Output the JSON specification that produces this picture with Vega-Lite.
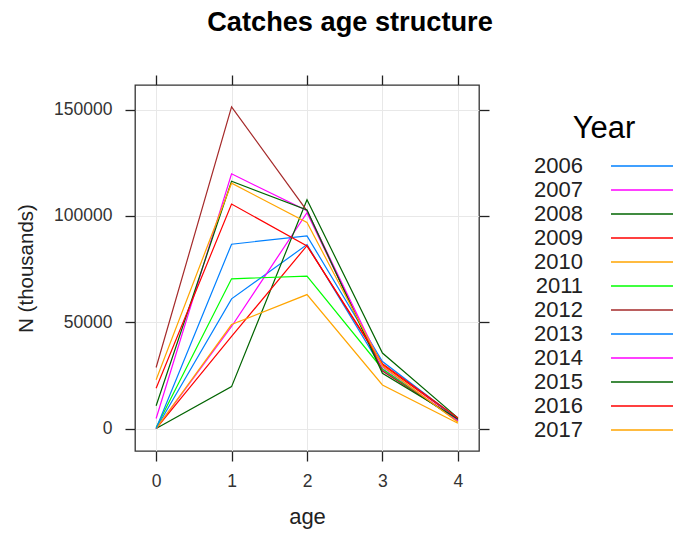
{
  "$schema": "https://vega.github.io/schema/vega-lite/v6.json",
  "width": 344,
  "height": 366,
  "autosize": {"type": "none"},
  "padding": {"left": 135, "top": 85, "right": 194, "bottom": 82},
  "background": "white",
  "title": {
    "text": "Catches age structure",
    "fontSize": 27.2,
    "fontWeight": "bold",
    "font": "Liberation Sans",
    "color": "black",
    "anchor": "middle",
    "dx": 43,
    "offset": 37
  },
  "config": {
    "view": {"stroke": "#333333", "strokeWidth": 1.3},
    "font": "Liberation Sans"
  },
  "data": {
    "values": [
      {"Year": "2006", "age": 0, "N": 0},
      {"Year": "2006", "age": 1, "N": 61000},
      {"Year": "2006", "age": 2, "N": 86500},
      {"Year": "2006", "age": 3, "N": 28000},
      {"Year": "2006", "age": 4, "N": 3500},
      {"Year": "2007", "age": 0, "N": 0},
      {"Year": "2007", "age": 1, "N": 48000},
      {"Year": "2007", "age": 2, "N": 101500},
      {"Year": "2007", "age": 3, "N": 27500},
      {"Year": "2007", "age": 4, "N": 4000},
      {"Year": "2008", "age": 0, "N": 0},
      {"Year": "2008", "age": 1, "N": 19700},
      {"Year": "2008", "age": 2, "N": 107600},
      {"Year": "2008", "age": 3, "N": 35500},
      {"Year": "2008", "age": 4, "N": 5000},
      {"Year": "2009", "age": 0, "N": 0},
      {"Year": "2009", "age": 1, "N": 43300},
      {"Year": "2009", "age": 2, "N": 86000},
      {"Year": "2009", "age": 3, "N": 30000},
      {"Year": "2009", "age": 4, "N": 4500},
      {"Year": "2010", "age": 0, "N": 0},
      {"Year": "2010", "age": 1, "N": 48900},
      {"Year": "2010", "age": 2, "N": 63000},
      {"Year": "2010", "age": 3, "N": 20500},
      {"Year": "2010", "age": 4, "N": 2500},
      {"Year": "2011", "age": 0, "N": 500},
      {"Year": "2011", "age": 1, "N": 70400},
      {"Year": "2011", "age": 2, "N": 71700},
      {"Year": "2011", "age": 3, "N": 28000},
      {"Year": "2011", "age": 4, "N": 3500},
      {"Year": "2012", "age": 0, "N": 28700},
      {"Year": "2012", "age": 1, "N": 151300},
      {"Year": "2012", "age": 2, "N": 102400},
      {"Year": "2012", "age": 3, "N": 27000},
      {"Year": "2012", "age": 4, "N": 4000},
      {"Year": "2013", "age": 0, "N": 0},
      {"Year": "2013", "age": 1, "N": 86700},
      {"Year": "2013", "age": 2, "N": 90600},
      {"Year": "2013", "age": 3, "N": 31500},
      {"Year": "2013", "age": 4, "N": 4500},
      {"Year": "2014", "age": 0, "N": 4700},
      {"Year": "2014", "age": 1, "N": 119800},
      {"Year": "2014", "age": 2, "N": 102400},
      {"Year": "2014", "age": 3, "N": 29000},
      {"Year": "2014", "age": 4, "N": 3500},
      {"Year": "2015", "age": 0, "N": 10700},
      {"Year": "2015", "age": 1, "N": 116300},
      {"Year": "2015", "age": 2, "N": 102800},
      {"Year": "2015", "age": 3, "N": 26000},
      {"Year": "2015", "age": 4, "N": 4500},
      {"Year": "2016", "age": 0, "N": 18900},
      {"Year": "2016", "age": 1, "N": 105600},
      {"Year": "2016", "age": 2, "N": 85900},
      {"Year": "2016", "age": 3, "N": 30500},
      {"Year": "2016", "age": 4, "N": 5000},
      {"Year": "2017", "age": 0, "N": 22900},
      {"Year": "2017", "age": 1, "N": 115400},
      {"Year": "2017", "age": 2, "N": 96900},
      {"Year": "2017", "age": 3, "N": 29500},
      {"Year": "2017", "age": 4, "N": 3000}
    ]
  },
  "layer": [
    {
      "mark": {"type": "line", "strokeWidth": 1.2},
      "encoding": {
        "x": {
          "field": "age", "type": "quantitative",
          "scale": {"domain": [-0.28, 4.28], "nice": false, "zero": false},
          "axis": {
            "values": [0, 1, 2, 3, 4], "grid": true, "gridColor": "#e8e8e8",
            "domain": false, "tickSize": 10, "tickColor": "#222", "tickWidth": 1.3,
            "labelFontSize": 17.5, "labelColor": "#333", "labelPadding": 11,
            "title": "age", "titleFontSize": 22, "titleFontWeight": "normal",
            "titleColor": "#222", "titlePadding": 17
          }
        },
        "y": {
          "field": "N", "type": "quantitative",
          "scale": {"domain": [-10570, 161570], "nice": false, "zero": false},
          "axis": {
            "values": [0, 50000, 100000, 150000], "format": "d", "grid": true,
            "gridColor": "#e8e8e8", "domain": false, "tickSize": 10,
            "tickColor": "#222", "tickWidth": 1.3, "labelFontSize": 17.5,
            "labelColor": "#333", "labelPadding": 13,
            "title": "N (thousands)", "titleFontSize": 20.5,
            "titleFontWeight": "normal", "titleColor": "#222", "titlePadding": 17
          }
        },
        "color": {
          "field": "Year", "type": "nominal",
          "scale": {
            "domain": ["2006","2007","2008","2009","2010","2011","2012","2013","2014","2015","2016","2017"],
            "range": ["#0080ff","#ff00ff","#006400","#ff0000","#ffa500","#00ff00","#a52a2a","#0080ff","#ff00ff","#006400","#ff0000","#ffa500"]
          },
          "legend": {
            "orient": "none", "legendX": 388, "legendY": 29,
            "title": "Year", "titleFontSize": 31, "titleFontWeight": "normal",
            "titleColor": "black", "titleAnchor": "middle", "titlePadding": 8,
            "labelFontSize": 22, "labelColor": "#222", "labelAlign": "right",
            "labelOffset": -77, "symbolType": "M-3,0L3,0", "symbolSize": 576,
            "symbolOffset": 111,
            "symbolStrokeWidth": 1.3, "rowPadding": 0, "padding": 0
          }
        }
      }
    },
    {
      "mark": {"type": "line", "opacity": 0},
      "encoding": {
        "x": {
          "field": "age", "type": "quantitative",
          "axis": {"orient": "top", "values": [0, 1, 2, 3, 4], "labels": false,
                   "title": null, "grid": false, "domain": false, "tickSize": 10,
                   "tickColor": "#222", "tickWidth": 1.3}
        },
        "y": {
          "field": "N", "type": "quantitative",
          "axis": {"orient": "right", "values": [0, 50000, 100000, 150000],
                   "labels": false, "title": null, "grid": false, "domain": false,
                   "tickSize": 10, "tickColor": "#222", "tickWidth": 1.3}
        },
        "detail": {"field": "Year"}
      }
    }
  ],
  "resolve": {"axis": {"x": "independent", "y": "independent"}}
}
